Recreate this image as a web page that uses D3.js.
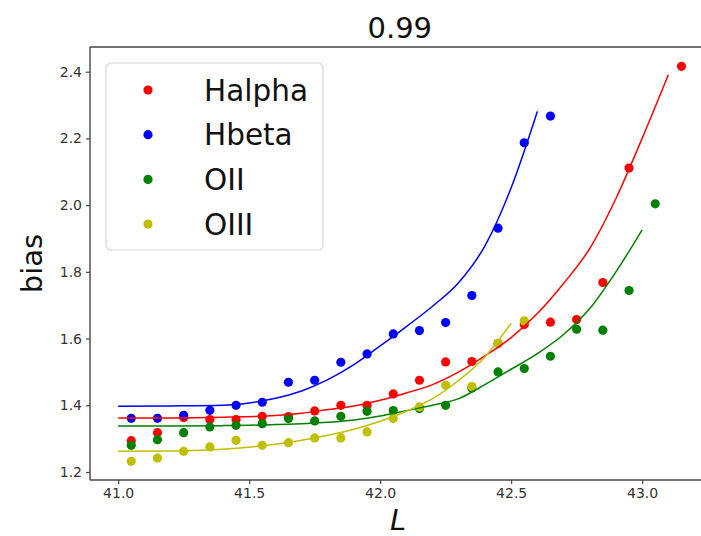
<!DOCTYPE html>
<html>
<head>
<meta charset="utf-8">
<script src="https://cdn.jsdelivr.net/npm/d3@7"></script>
<style>
  html, body { margin: 0; padding: 0; background: #fff; }
  svg { display: block; font-family: "DejaVu Sans", sans-serif; }
</style>
</head>
<body>
<svg id="chart" width="701" height="536"></svg>
<script>
// Luminosity bin centres
const lumBins = [41.05, 41.15, 41.25, 41.35, 41.45, 41.55, 41.65, 41.75, 41.85, 41.95,
                 42.05, 42.15, 42.25, 42.35, 42.45, 42.55, 42.65, 42.75, 42.85, 42.95,
                 43.05, 43.15];

// Measured bias per bin (null = empty bin)
const halpha = [1.294, 1.318, 1.363, 1.357, 1.357, 1.367, 1.366, 1.383, 1.400, 1.400,
                1.434, 1.475, 1.530, 1.531, 1.585, 1.642, 1.649, 1.657, 1.768, 2.111,
                null, 2.416];
const hbeta  = [1.361, 1.361, 1.370, 1.385, 1.400, 1.409, 1.469, 1.475, 1.529, 1.554,
                1.614, 1.624, 1.648, 1.729, 1.931, 2.187, 2.267];
const oii    = [1.280, 1.297, 1.318, 1.335, 1.340, 1.345, 1.360, 1.353, 1.367, 1.382,
                1.384, 1.390, 1.400, 1.452, 1.500, 1.510, 1.547, 1.628, 1.625, 1.744,
                2.004];
const oiii   = [1.232, 1.242, 1.262, 1.275, 1.295, 1.280, 1.288, 1.302, 1.302, 1.320,
                1.360, 1.395, 1.460, 1.456, 1.586, 1.653];

// Fitted bias curves, sampled along L
const fitHalphaL = [41.0, 41.2, 41.4, 41.6, 41.7, 41.8, 41.9, 42.0, 42.1, 42.2, 42.3, 42.4,
                    42.5, 42.6, 42.7, 42.8, 42.9, 43.0, 43.1];
const fitHalpha  = [1.362, 1.362, 1.364, 1.369, 1.376, 1.387, 1.398, 1.415, 1.437, 1.462,
                    1.500, 1.548, 1.603, 1.675, 1.765, 1.870, 2.020, 2.200, 2.391];
const fitHbetaL  = [41.0, 41.2, 41.4, 41.5, 41.6, 41.7, 41.8, 41.9, 42.0, 42.1, 42.2,
                    42.3, 42.4, 42.5, 42.6];
const fitHbeta   = [1.397, 1.398, 1.400, 1.407, 1.421, 1.443, 1.477, 1.522, 1.578, 1.636,
                    1.697, 1.768, 1.878, 2.052, 2.281];
const fitOiiL    = [41.0, 41.2, 41.4, 41.6, 41.8, 41.9, 42.0, 42.1, 42.2, 42.3, 42.4,
                    42.5, 42.6, 42.7, 42.8, 42.9, 43.0];
const fitOii     = [1.338, 1.338, 1.339, 1.342, 1.349, 1.356, 1.368, 1.384, 1.400, 1.420,
                    1.462, 1.508, 1.555, 1.612, 1.690, 1.800, 1.926];
const fitOiiiL   = [41.0, 41.2, 41.4, 41.6, 41.7, 41.8, 41.9, 42.0, 42.1, 42.2, 42.3,
                    42.4, 42.5];
const fitOiii    = [1.262, 1.263, 1.268, 1.283, 1.295, 1.310, 1.328, 1.352, 1.382, 1.420,
                    1.475, 1.545, 1.646];

const seriesNames  = ["Halpha", "Hbeta", "OII", "OIII"];
const seriesColors = ["#ff0000", "#0000ff", "#008000", "#bfbf00"];

const xTicks = [41.0, 41.5, 42.0, 42.5, 43.0];
const yTicks = [1.2, 1.4, 1.6, 1.8, 2.0, 2.2, 2.4];

(function draw() {
  const svg = d3.select("#chart");
  // the axes box runs a little past the right edge of the page
  const padL = 90, padR = 709.6, padT = 47, padB = 480;

  const x = d3.scaleLinear().domain([40.8925, 43.2575]).range([padL, padR]);
  const y = d3.scaleLinear().domain([1.176, 2.474]).range([padB, padT]);

  svg.append("defs").append("clipPath").attr("id", "plotClip")
    .append("rect").attr("x", padL).attr("y", padT)
    .attr("width", padR - padL).attr("height", padB - padT);

  const plot = svg.append("g").attr("clip-path", "url(#plotClip)");

  const pointSets = [halpha, hbeta, oii, oiii];
  const fitSets = [[fitHalphaL, fitHalpha], [fitHbetaL, fitHbeta], [fitOiiL, fitOii], [fitOiiiL, fitOiii]];

  // scatter markers first
  pointSets.forEach((vals, i) => {
    const pts = vals.map((v, j) => ({ l: lumBins[j], b: v })).filter(d => d.b !== null);
    plot.append("g").selectAll("circle").data(pts).join("circle")
      .attr("cx", d => x(d.l)).attr("cy", d => y(d.b)).attr("r", 4.6)
      .attr("fill", seriesColors[i]);
  });

  // fitted curves on top
  const line = d3.line().x(d => x(d[0])).y(d => y(d[1])).curve(d3.curveMonotoneX);
  fitSets.forEach(([ls, bs], i) => {
    plot.append("path")
      .attr("d", line(ls.map((l, j) => [l, bs[j]])))
      .attr("fill", "none").attr("stroke", seriesColors[i]).attr("stroke-width", 1.5);
  });

  // axes
  const xAxis = d3.axisBottom(x).tickValues(xTicks).tickFormat(d3.format(".1f")).tickSize(4).tickPadding(4);
  const yAxis = d3.axisLeft(y).tickValues(yTicks).tickFormat(d3.format(".1f")).tickSize(4).tickPadding(4);

  const gx = svg.append("g").attr("transform", `translate(0,${padB})`).call(xAxis);
  const gy = svg.append("g").attr("transform", `translate(${padL},0)`).call(yAxis);
  [gx, gy].forEach(g => {
    g.select(".domain").remove();
    g.selectAll(".tick line").attr("stroke", "#444").attr("stroke-width", 1.2);
    g.selectAll(".tick text").attr("fill", "#333").style("font-size", "14px")
      .style("font-family", "DejaVu Sans, sans-serif");
  });

  // frame: left, bottom and top spines
  const frame = [[padL, padT, padL, padB], [padL, padB, padR, padB], [padL, padT, padR, padT]];
  frame.forEach(([x1, y1, x2, y2]) => {
    svg.append("line").attr("x1", x1).attr("y1", y1).attr("x2", x2).attr("y2", y2)
      .attr("stroke", "#444").attr("stroke-width", 1.4);
  });

  // title and axis labels
  svg.append("text").attr("x", (padL + padR) / 2).attr("y", 38)
    .attr("text-anchor", "middle").style("font-size", "29px").attr("fill", "#111").text("0.99");
  svg.append("text").attr("x", x(42.0) + 18).attr("y", 530)
    .attr("text-anchor", "middle").style("font-size", "29px").style("font-style", "italic")
    .attr("fill", "#111").text("L");
  svg.append("text").attr("transform", `translate(42,${(padT + padB) / 2}) rotate(-90)`)
    .attr("text-anchor", "middle").style("font-size", "29px").attr("fill", "#111").text("bias");

  // legend
  const lg = svg.append("g");
  lg.append("rect").attr("x", 106).attr("y", 63).attr("width", 217).attr("height", 187)
    .attr("rx", 5).attr("fill", "#fff").attr("fill-opacity", 0.85)
    .attr("stroke", "#d6d6d6").attr("stroke-width", 1.2);
  seriesNames.forEach((name, i) => {
    const cy = 90 + i * 44.7;
    lg.append("circle").attr("cx", 148).attr("cy", cy).attr("r", 4.6).attr("fill", seriesColors[i]);
    lg.append("text").attr("x", 204).attr("y", cy + 10.5)
      .style("font-size", "29.5px").attr("fill", "#111").text(name);
  });
})();
</script>
</body>
</html>
